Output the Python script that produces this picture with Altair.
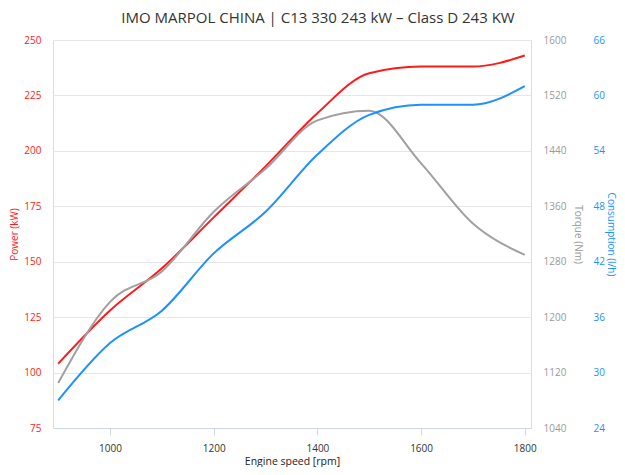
import altair as alt
import pandas as pd

# Data
rpm = [900, 1000, 1100, 1200, 1300, 1400, 1500, 1600, 1700, 1800]
power_kw = [104, 128, 147, 170, 193, 217, 235, 238, 238, 243]
torque_nm = [1105, 1222, 1266, 1352, 1414, 1484, 1498, 1422, 1335, 1290]
consumption_lh = [27.0, 33.2, 36.7, 42.9, 47.4, 53.6, 57.9, 59.0, 59.0, 61.0]

x_ticks = [1000, 1200, 1400, 1600, 1800]
power_ticks = [75, 100, 125, 150, 175, 200, 225, 250]
torque_ticks = [1040, 1120, 1200, 1280, 1360, 1440, 1520, 1600]
cons_ticks = [24, 30, 36, 42, 48, 54, 60, 66]

TITLE = "IMO MARPOL CHINA | C13 330 243 kW \u2013 Class D 243 KW"

RED = "#ff1a1a"
GRAY = "#a0a0a0"
BLUE = "#1e90ff"
FONT = "Open Sans"

df = pd.DataFrame({
    "rpm": rpm,
    "power": power_kw,
    "torque": torque_nm,
    "consumption": consumption_lh,
})

base = alt.Chart(df)

x_enc = alt.X(
    "rpm:Q",
    scale=alt.Scale(domain=[890, 1812], nice=False, zero=False),
    axis=alt.Axis(
        values=x_ticks, title="Engine speed [rpm]", grid=False,
        domainColor="#ccd6eb", tickColor="#ccd6eb", tickSize=7,
        labelFont=FONT, labelFontSize=10, labelColor="#333333", labelPadding=8,
        titleFont=FONT, titleFontSize=10.5, titleFontWeight="normal",
        titleColor="#222222", titleY=33, titleBaseline="middle", format="d",
    ),
)

power = base.mark_line(color=RED, strokeWidth=2, interpolate="monotone").encode(
    x=x_enc,
    y=alt.Y(
        "power:Q",
        scale=alt.Scale(domain=[75, 250], nice=False, zero=False),
        axis=alt.Axis(
            orient="left", values=power_ticks, title="Power (kW)",
            grid=True, gridColor="#e6e6e6", ticks=False, tickSize=0, domain=False,
            labelFont=FONT, labelFontSize=10, labelColor=RED, labelPadding=12,
            titleFont=FONT, titleFontSize=10, titleFontWeight="normal", titleColor=RED,
            titleX=-39, titleY=194, titleAlign="center", titleBaseline="middle",
        ),
    ),
)

torque = base.mark_line(color=GRAY, strokeWidth=2, interpolate="monotone").encode(
    x=x_enc,
    y=alt.Y(
        "torque:Q",
        scale=alt.Scale(domain=[1040, 1600], nice=False, zero=False),
        axis=alt.Axis(
            orient="right", values=torque_ticks, title="Torque (Nm)", format="d",
            grid=False, ticks=False, tickSize=0, domain=False,
            labelFont=FONT, labelFontSize=10, labelColor="#9a9a9a", labelPadding=12,
            titleFont=FONT, titleFontSize=10, titleFontWeight="normal", titleColor="#9a9a9a",
            titleX=46, titleY=194, titleAlign="center", titleBaseline="middle",
        ),
    ),
)

consumption = base.mark_line(color=BLUE, strokeWidth=2, interpolate="monotone").encode(
    x=x_enc,
    y=alt.Y(
        "consumption:Q",
        scale=alt.Scale(domain=[24, 66], nice=False, zero=False),
        axis=alt.Axis(
            orient="right", offset=51, values=cons_ticks, title="Consumption (l/h)",
            grid=False, ticks=False, tickSize=0, domain=False,
            labelFont=FONT, labelFontSize=10, labelColor=BLUE, labelPadding=11,
            titleFont=FONT, titleFontSize=10, titleFontWeight="normal", titleColor=BLUE,
            titleX=28, titleY=194, titleAlign="center", titleBaseline="middle",
        ),
    ),
)

chart = alt.layer(power, torque, consumption).resolve_scale(y="independent").properties(
    width=478,
    height=388,
    title=alt.TitleParams(
        text=TITLE, font=FONT, fontSize=15, fontWeight="normal", color="#333333",
        anchor="middle", frame="group", dx=26, offset=-3, baseline="alphabetic", limit=620,
    ),
    autosize=alt.AutoSizeParams(type="none"),
    padding={"left": 45, "top": 32, "right": 86, "bottom": 39},
).configure_view(stroke=None).configure(background="white")

chart.save("out.html", embed_options={"renderer": "svg", "actions": False})
